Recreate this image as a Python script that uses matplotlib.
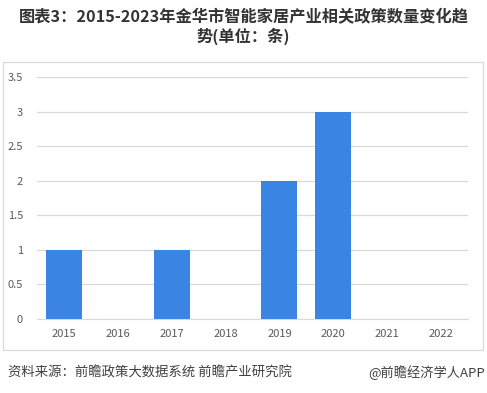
import matplotlib
matplotlib.use("Agg")
import matplotlib.pyplot as plt
from matplotlib.patches import Rectangle

plt.rcParams["font.family"] = ["Noto Sans CJK SC", "DejaVu Sans"]

years = ["2015", "2016", "2017", "2018", "2019", "2020", "2021", "2022"]
counts = [1, 0, 1, 0, 2, 3, 0, 0]
yticks = [0, 0.5, 1, 1.5, 2, 2.5, 3, 3.5]
ytick_labels = ["0", "0.5", "1", "1.5", "2", "2.5", "3", "3.5"]

title = "图表3：2015-2023年金华市智能家居产业相关政策数量变化趋\n势(单位：条)"
source = "资料来源：前瞻政策大数据系统 前瞻产业研究院"
brand = "@前瞻经济学人APP"

W, H = 487, 393
fig = plt.figure(figsize=(W / 100, H / 100), dpi=100)

# outer frame around the chart area
fig.patches.append(Rectangle((3 / W, 1 - 350 / H), 480 / W, 288 / H,
                             transform=fig.transFigure, fill=False,
                             edgecolor="#d9d9d9", linewidth=0.9))

ax = fig.add_axes([37 / W, 1 - 319 / H, 431 / W, 242 / H])
x = range(len(years))
ax.bar(x, counts, width=0.67, color="#3a84e3", zorder=3)

ax.set_xlim(-0.5, len(years) - 0.5)
ax.set_ylim(0, 3.5)
ax.set_yticks(yticks)
ax.set_yticklabels(ytick_labels)
ax.set_xticks(list(x))
ax.set_xticklabels(years)
ax.grid(axis="y", color="#d9d9d9", linewidth=0.9, zorder=0)
for s in ["top", "right", "left"]:
    ax.spines[s].set_visible(False)
ax.spines["bottom"].set_color("#d9d9d9")
ax.tick_params(length=0, labelsize=8, colors="#595959")
ax.tick_params(axis="y", pad=10)
ax.tick_params(axis="x", pad=7)

fig.text(0.5, 1 - 27 / H, title, ha="center", va="center", fontsize=11.7,
         fontweight="bold", color="#333333", linespacing=1.15)
fig.text(8 / W, 1 - 373 / H, source, ha="left", va="center", fontsize=9.6,
         color="#404040")
fig.text(485 / W, 1 - 373 / H, brand, ha="right", va="center", fontsize=9.5,
         color="#404040")

fig.savefig("out.png", dpi=100)
